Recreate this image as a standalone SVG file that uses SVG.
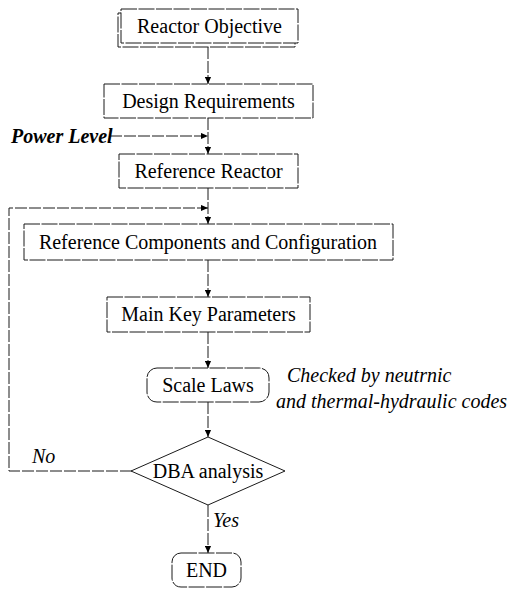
<svg xmlns="http://www.w3.org/2000/svg" width="524" height="589" viewBox="0 0 524 589">
<style>
.box{fill:#fff;stroke:#1a1a1a;stroke-width:1;stroke-dasharray:16 1.5}
.t{font-family:"Liberation Serif","Times New Roman",serif;font-size:20px;fill:#000;text-anchor:middle}
.it{font-family:"Liberation Serif","Times New Roman",serif;font-size:20px;font-style:italic;fill:#000}
.ln{fill:none;stroke:#1a1a1a;stroke-width:1;stroke-dasharray:12 2}
</style>
<defs>
<marker id="ah" viewBox="0 0 8 8" refX="8" refY="4" markerWidth="7" markerHeight="7" markerUnits="userSpaceOnUse" orient="auto">
<path d="M0,0.5 L8,4 L0,7.5 Z" fill="#000"/>
</marker>
</defs>
<rect width="524" height="589" fill="#fff"/>
<g id="connectors">
<line class="ln" x1="208" y1="47" x2="208" y2="84" marker-end="url(#ah)"/>
<line class="ln" x1="208" y1="118" x2="208" y2="154" marker-end="url(#ah)"/>
<line class="ln" x1="110" y1="136" x2="208" y2="136" marker-end="url(#ah)"/>
<line class="ln" x1="208" y1="188" x2="208" y2="224" marker-end="url(#ah)"/>
<polyline class="ln" points="132,471 9,471 9,208 208,208" marker-end="url(#ah)"/>
<line class="ln" x1="208" y1="260" x2="208" y2="297" marker-end="url(#ah)"/>
<line class="ln" x1="208" y1="332" x2="208" y2="368" marker-end="url(#ah)"/>
<line class="ln" x1="208" y1="402" x2="208" y2="437" marker-end="url(#ah)"/>
<line class="ln" x1="208" y1="505" x2="208" y2="553" marker-end="url(#ah)"/>
<text class="it" x="11" y="143" style="font-weight:bold">Power Level</text>
<text class="it" x="32" y="463">No</text>
<text class="it" x="213" y="527">Yes</text>
</g>
<g id="reactor-objective">
<rect class="box" x="118" y="13" width="177" height="34"/>
<rect class="box" x="121" y="9" width="177" height="34"/>
<text class="t" x="209.5" y="33">Reactor Objective</text>
</g>
<g id="design-requirements">
<rect class="box" x="104" y="84" width="209" height="34"/>
<text class="t" x="208.5" y="108">Design Requirements</text>
</g>
<g id="reference-reactor">
<rect class="box" x="119" y="154" width="179" height="34"/>
<text class="t" x="208.5" y="178">Reference Reactor</text>
</g>
<g id="reference-components">
<rect class="box" x="24" y="224" width="369" height="36"/>
<text class="t" x="208" y="249">Reference Components and Configuration</text>
</g>
<g id="main-key-parameters">
<rect class="box" x="107" y="297" width="203" height="35"/>
<text class="t" x="208.5" y="321">Main Key Parameters</text>
</g>
<g id="scale-laws">
<rect class="box" x="147" y="368" width="122" height="34" rx="10"/>
<text class="t" x="208" y="392">Scale Laws</text>
</g>
<g id="checked-note">
<text class="it" x="287" y="382">Checked by neutrnic</text>
<text class="it" x="276" y="408">and thermal-hydraulic codes</text>
</g>
<g id="dba-analysis">
<polygon points="208,437 285,471 208,505 131,471" fill="#fff" stroke="#1a1a1a" stroke-width="1"/>
<text class="t" x="208" y="478">DBA analysis</text>
</g>
<g id="end">
<rect class="box" x="172" y="553" width="69" height="34" rx="9"/>
<text class="t" x="206.5" y="577">END</text>
</g>
</svg>
